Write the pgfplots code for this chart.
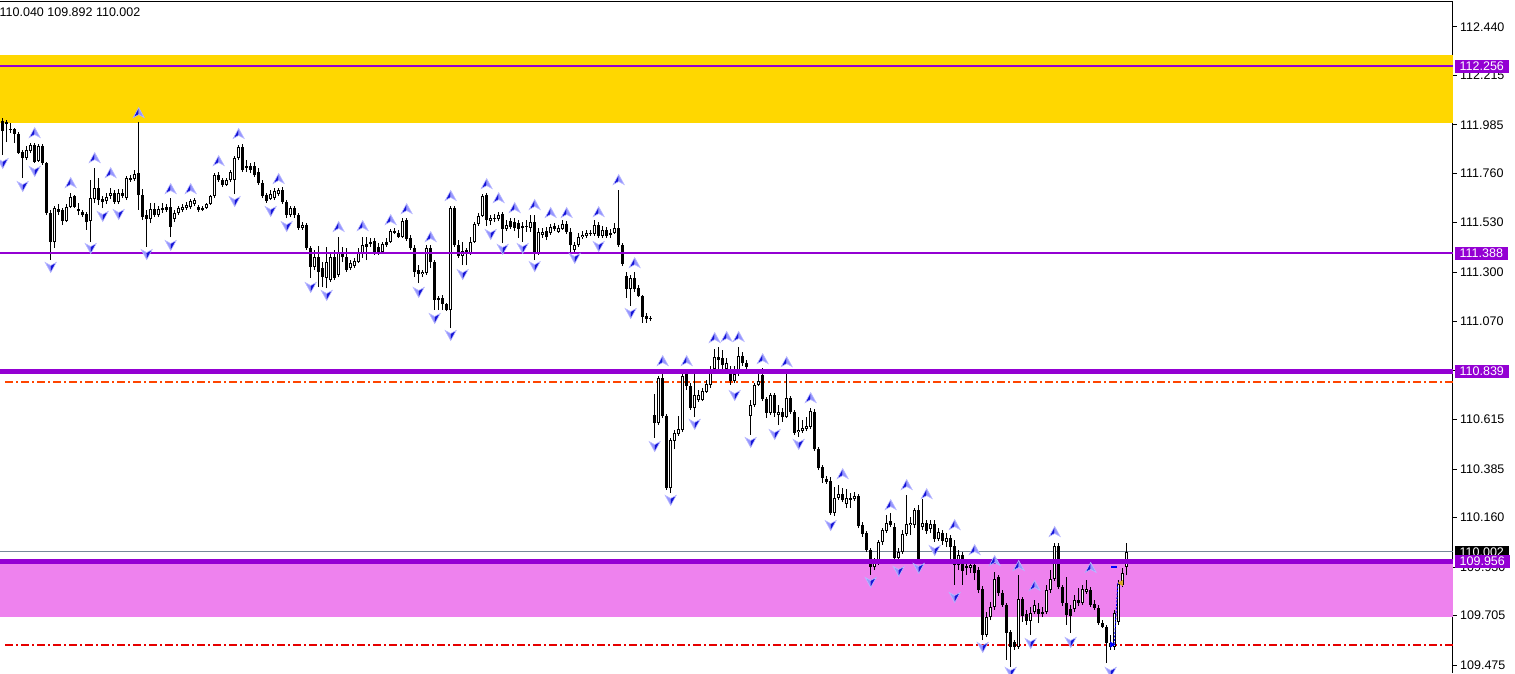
\documentclass[border=0pt]{standalone}
\usepackage{fontspec}
\setmainfont{Liberation Sans}
\usepackage{pgfplots}
\usepackage{pgfplotstable}
\pgfplotsset{compat=1.18}
\definecolor{dviolet}{RGB}{148,0,211}
\definecolor{goldband}{RGB}{255,215,0}
\definecolor{pinkband}{RGB}{238,130,238}
\definecolor{lsgray}{RGB}{119,136,153}
\definecolor{ored}{RGB}{255,69,0}
\definecolor{dred}{RGB}{230,0,0}
\definecolor{arrdark}{RGB}{20,20,215}
\definecolor{arrlight}{RGB}{150,150,255}
\definecolor{arredge}{RGB}{185,185,255}
\definecolor{tgold}{RGB}{218,165,32}

\pgfdeclareplotmark{uparr}{%
  \pgfsetfillcolor{arrdark}%
  \pgfpathmoveto{\pgfqpoint{0pt}{5.5pt}}\pgfpathlineto{\pgfqpoint{-5.5pt}{-4.5pt}}\pgfpathlineto{\pgfqpoint{0pt}{-1.5pt}}\pgfpathclose
  \pgfusepath{fill}%
  \pgfsetfillcolor{arrlight}%
  \pgfpathmoveto{\pgfqpoint{0pt}{5.5pt}}\pgfpathlineto{\pgfqpoint{5.5pt}{-4.5pt}}\pgfpathlineto{\pgfqpoint{0pt}{-1.5pt}}\pgfpathclose
  \pgfusepath{fill}%
  \pgfsetlinewidth{0.6pt}\pgfsetstrokecolor{arredge}%
  \pgfpathmoveto{\pgfqpoint{0pt}{5.5pt}}\pgfpathlineto{\pgfqpoint{5.5pt}{-4.5pt}}\pgfpathlineto{\pgfqpoint{0pt}{-1.5pt}}\pgfpathlineto{\pgfqpoint{-5.5pt}{-4.5pt}}\pgfpathclose
  \pgfusepath{stroke}%
}
\pgfdeclareplotmark{dnarr}{%
  \pgfsetfillcolor{arrlight}%
  \pgfpathmoveto{\pgfqpoint{0pt}{-5.5pt}}\pgfpathlineto{\pgfqpoint{-5.5pt}{4.5pt}}\pgfpathlineto{\pgfqpoint{0pt}{1.5pt}}\pgfpathclose
  \pgfusepath{fill}%
  \pgfsetfillcolor{arrdark}%
  \pgfpathmoveto{\pgfqpoint{0pt}{-5.5pt}}\pgfpathlineto{\pgfqpoint{5.5pt}{4.5pt}}\pgfpathlineto{\pgfqpoint{0pt}{1.5pt}}\pgfpathclose
  \pgfusepath{fill}%
  \pgfsetlinewidth{0.6pt}\pgfsetstrokecolor{arredge}%
  \pgfpathmoveto{\pgfqpoint{0pt}{-5.5pt}}\pgfpathlineto{\pgfqpoint{5.5pt}{4.5pt}}\pgfpathlineto{\pgfqpoint{0pt}{1.5pt}}\pgfpathlineto{\pgfqpoint{-5.5pt}{4.5pt}}\pgfpathclose
  \pgfusepath{stroke}%
}
\pgfdeclareplotmark{nomark}{}

\pgfplotstableread{
i o h l c
0 112.002 112.016 111.844 111.955
1 111.997 112.007 111.904 111.988
2 111.960 111.993 111.946 111.965
3 111.965 111.969 111.900 111.942
4 111.942 111.951 111.849 111.853
5 111.858 111.867 111.737 111.830
6 111.830 111.886 111.821 111.867
7 111.863 111.900 111.853 111.891
8 111.891 111.900 111.807 111.811
9 111.816 111.895 111.811 111.886
10 111.886 111.895 111.798 111.807
11 111.807 111.811 111.565 111.575
12 111.575 111.589 111.356 111.440
13 111.440 111.607 111.412 111.598
14 111.593 111.616 111.565 111.579
15 111.589 111.598 111.519 111.537
16 111.537 111.616 111.533 111.602
17 111.602 111.667 111.598 111.649
18 111.654 111.658 111.598 111.602
19 111.593 111.621 111.565 111.584
20 111.579 111.589 111.556 111.565
21 111.570 111.579 111.496 111.533
22 111.537 111.728 111.440 111.644
23 111.640 111.784 111.621 111.691
24 111.691 111.737 111.612 111.635
25 111.640 111.654 111.598 111.626
26 111.630 111.667 111.616 111.649
27 111.654 111.691 111.640 111.667
28 111.667 111.681 111.616 111.626
29 111.626 111.686 111.616 111.667
30 111.667 111.686 111.644 111.654
31 111.644 111.747 111.635 111.737
32 111.737 111.751 111.719 111.728
33 111.733 111.774 111.723 111.756
34 111.760 111.997 111.589 111.658
35 111.658 111.686 111.542 111.556
36 111.565 111.589 111.417 111.547
37 111.547 111.621 111.528 111.593
38 111.593 111.621 111.556 111.565
39 111.565 111.607 111.556 111.593
40 111.589 111.621 111.575 111.598
41 111.602 111.616 111.579 111.589
42 111.602 111.644 111.463 111.510
43 111.547 111.589 111.533 111.575
44 111.575 111.607 111.565 111.598
45 111.589 111.616 111.579 111.602
46 111.598 111.626 111.589 111.612
47 111.602 111.640 111.593 111.630
48 111.616 111.644 111.607 111.635
49 111.602 111.612 111.579 111.589
50 111.598 111.607 111.584 111.589
51 111.598 111.621 111.593 111.616
52 111.616 111.658 111.612 111.654
53 111.654 111.760 111.644 111.751
54 111.751 111.765 111.719 111.728
55 111.728 111.737 111.695 111.705
56 111.705 111.737 111.700 111.728
57 111.728 111.774 111.719 111.765
58 111.728 111.839 111.663 111.830
59 111.830 111.891 111.821 111.881
60 111.881 111.895 111.765 111.774
61 111.793 111.821 111.765 111.784
62 111.793 111.807 111.760 111.774
63 111.793 111.811 111.742 111.751
64 111.765 111.784 111.705 111.714
65 111.714 111.728 111.644 111.654
66 111.658 111.667 111.621 111.630
67 111.640 111.681 111.635 111.663
68 111.644 111.691 111.635 111.677
69 111.663 111.691 111.654 111.681
70 111.681 111.695 111.616 111.626
71 111.626 111.635 111.551 111.565
72 111.565 111.607 111.556 111.598
73 111.598 111.607 111.551 111.565
74 111.565 111.575 111.496 111.505
75 111.505 111.533 111.496 111.519
76 111.519 111.528 111.403 111.412
77 111.412 111.421 111.273 111.324
78 111.324 111.403 111.310 111.370
79 111.370 111.421 111.231 111.301
80 111.319 111.347 111.231 111.278
81 111.273 111.417 111.226 111.347
82 111.263 111.393 111.254 111.370
83 111.370 111.403 111.263 111.273
84 111.287 111.463 111.277 111.393
85 111.389 111.417 111.347 111.370
86 111.370 111.412 111.301 111.310
87 111.319 111.356 111.310 111.342
88 111.328 111.366 111.319 111.352
89 111.347 111.412 111.342 111.389
90 111.389 111.463 111.366 111.426
91 111.431 111.463 111.356 111.417
92 111.431 111.459 111.417 111.440
93 111.445 111.459 111.380 111.389
94 111.417 111.435 111.380 111.389
95 111.394 111.440 111.384 111.431
96 111.440 111.459 111.417 111.426
97 111.440 111.500 111.435 111.491
98 111.491 111.505 111.477 111.482
99 111.482 111.496 111.459 111.463
100 111.463 111.551 111.459 111.537
101 111.542 111.551 111.445 111.454
102 111.459 111.473 111.403 111.412
103 111.412 111.426 111.277 111.301
104 111.310 111.333 111.249 111.291
105 111.291 111.310 111.277 111.301
106 111.296 111.426 111.287 111.412
107 111.412 111.426 111.319 111.347
108 111.347 111.356 111.124 111.171
109 111.180 111.189 111.124 111.171
110 111.180 111.194 111.124 111.152
111 111.152 111.157 111.119 111.124
112 111.124 111.607 111.040 111.598
113 111.598 111.607 111.417 111.426
114 111.426 111.449 111.366 111.375
115 111.375 111.440 111.333 111.398
116 111.403 111.412 111.333 111.389
117 111.389 111.463 111.380 111.440
118 111.440 111.533 111.435 111.524
119 111.524 111.575 111.514 111.561
120 111.561 111.663 111.556 111.654
121 111.658 111.667 111.514 111.542
122 111.537 111.565 111.519 111.551
123 111.547 111.570 111.533 111.551
124 111.547 111.579 111.537 111.565
125 111.570 111.579 111.435 111.500
126 111.500 111.542 111.491 111.519
127 111.537 111.551 111.500 111.510
128 111.533 111.551 111.491 111.505
129 111.528 111.542 111.459 111.500
130 111.514 111.533 111.440 111.505
131 111.510 111.542 111.487 111.514
132 111.505 111.565 111.487 111.533
133 111.533 111.565 111.356 111.389
134 111.389 111.505 111.380 111.487
135 111.473 111.505 111.459 111.487
136 111.491 111.510 111.449 111.463
137 111.482 111.524 111.473 111.510
138 111.514 111.528 111.491 111.500
139 111.487 111.519 111.482 111.505
140 111.500 111.542 111.496 111.524
141 111.524 111.537 111.477 111.487
142 111.487 111.505 111.394 111.426
143 111.403 111.440 111.394 111.426
144 111.426 111.482 111.417 111.463
145 111.463 111.491 111.454 111.473
146 111.468 111.496 111.459 111.482
147 111.477 111.496 111.468 111.482
148 111.477 111.542 111.468 111.519
149 111.519 111.533 111.459 111.468
150 111.468 111.514 111.459 111.496
151 111.496 111.510 111.459 111.468
152 111.473 111.500 111.459 111.482
153 111.482 111.528 111.477 111.505
154 111.505 111.681 111.417 111.426
155 111.426 111.435 111.328 111.338
156 111.282 111.301 111.180 111.222
157 111.222 111.287 111.143 111.273
158 111.273 111.301 111.208 111.222
159 111.226 111.240 111.184 111.189
160 111.189 111.194 111.064 111.092
161 111.096 111.110 111.064 111.082
162 111.087 111.096 111.073 111.082
163 110.636 110.734 110.530 110.599
164 110.599 110.817 110.590 110.808
165 110.808 110.831 110.622 110.632
166 110.632 110.641 110.288 110.297
167 110.297 110.530 110.274 110.520
168 110.516 110.567 110.478 110.553
169 110.548 110.632 110.539 110.571
170 110.567 110.831 110.557 110.817
171 110.827 110.836 110.752 110.771
172 110.771 110.785 110.660 110.669
173 110.669 110.827 110.627 110.729
174 110.706 110.752 110.697 110.729
175 110.706 110.762 110.701 110.748
176 110.743 110.799 110.739 110.780
177 110.776 110.864 110.762 110.850
178 110.850 110.943 110.841 110.906
179 110.906 110.952 110.850 110.892
180 110.901 110.938 110.845 110.869
181 110.850 110.901 110.836 110.878
182 110.850 110.864 110.776 110.794
183 110.794 110.864 110.785 110.827
184 110.827 110.952 110.817 110.910
185 110.910 110.929 110.864 110.878
186 110.878 110.892 110.845 110.859
187 110.632 110.706 110.544 110.683
188 110.683 110.785 110.674 110.776
189 110.776 110.836 110.771 110.794
190 110.822 110.855 110.701 110.711
191 110.711 110.720 110.622 110.646
192 110.646 110.739 110.636 110.729
193 110.729 110.739 110.627 110.646
194 110.636 110.683 110.590 110.650
195 110.650 110.669 110.604 110.627
196 110.627 110.841 110.622 110.715
197 110.715 110.725 110.641 110.650
198 110.650 110.660 110.544 110.553
199 110.557 110.627 110.534 110.567
200 110.562 110.613 110.553 110.576
201 110.571 110.627 110.562 110.585
202 110.581 110.669 110.571 110.655
203 110.650 110.664 110.469 110.478
204 110.478 110.488 110.381 110.390
205 110.395 110.404 110.320 110.344
206 110.339 110.353 110.316 110.325
207 110.330 110.348 110.172 110.181
208 110.181 110.302 110.167 110.251
209 110.251 110.311 110.242 110.269
210 110.269 110.297 110.232 110.242
211 110.223 110.293 110.204 110.251
212 110.242 110.274 110.204 110.251
213 110.246 110.279 110.237 110.260
214 110.260 110.269 110.111 110.121
215 110.125 110.139 110.070 110.084
216 110.088 110.098 110.000 110.009
217 110.009 110.019 109.893 109.930
218 109.930 109.972 109.916 109.949
219 109.949 110.056 109.940 110.046
220 110.046 110.112 110.033 110.102
221 110.098 110.172 110.088 110.135
222 110.144 110.181 110.116 110.125
223 110.116 110.135 109.963 109.972
224 109.972 110.019 109.963 110.000
225 110.000 110.102 109.991 110.084
226 110.084 110.265 110.074 110.130
227 110.125 110.163 110.079 110.135
228 110.125 110.204 110.111 110.195
229 110.195 110.218 109.949 109.963
230 110.116 110.246 110.102 110.135
231 110.135 110.149 110.084 110.098
232 110.107 110.149 110.088 110.130
233 110.130 110.149 110.046 110.060
234 110.060 110.112 110.051 110.093
235 110.088 110.102 110.033 110.051
236 110.046 110.088 110.023 110.065
237 110.065 110.079 109.963 110.023
238 110.028 110.056 109.847 109.940
239 109.940 110.009 109.916 109.986
240 109.986 110.000 109.847 109.912
241 109.935 109.963 109.893 109.926
242 109.926 109.954 109.902 109.940
243 109.940 109.954 109.870 109.902
244 109.916 109.930 109.809 109.823
245 109.828 109.842 109.591 109.615
246 109.615 109.721 109.605 109.698
247 109.698 109.768 109.684 109.745
248 109.745 109.907 109.731 109.875
249 109.884 109.893 109.796 109.809
250 109.809 109.823 109.745 109.754
251 109.754 109.763 109.498 109.624
252 109.628 109.638 109.466 109.559
253 109.582 109.591 109.545 109.559
254 109.559 109.893 109.550 109.782
255 109.782 109.791 109.675 109.703
256 109.712 109.731 109.661 109.680
257 109.680 109.745 109.615 109.717
258 109.721 109.777 109.712 109.754
259 109.735 109.763 109.670 109.712
260 109.712 109.745 109.698 109.721
261 109.721 109.847 109.712 109.823
262 109.823 109.916 109.809 109.875
263 109.875 110.042 109.865 110.028
264 110.028 110.042 109.828 109.837
265 109.837 109.847 109.749 109.763
266 109.763 109.884 109.661 109.707
267 109.735 109.754 109.624 109.703
268 109.735 109.800 109.721 109.777
269 109.777 109.833 109.749 109.763
270 109.763 109.847 109.754 109.828
271 109.814 109.870 109.805 109.828
272 109.823 109.837 109.745 109.754
273 109.758 109.777 109.731 109.740
274 109.740 109.754 109.661 109.670
275 109.670 109.684 109.647 109.652
276 109.652 109.661 109.484 109.577
277 109.559 109.615 109.545 109.577
278 109.559 109.731 109.545 109.717
279 109.675 109.870 109.661 109.851
280 109.847 109.926 109.837 109.902
281 109.930 110.040 109.892 110.002
}\candles

\begin{document}
\begin{tikzpicture}
\useasboundingbox (0,0) rectangle (1515pt,673pt);
\begin{axis}[
  at={(0pt,0pt)}, anchor=south west,
  scale only axis, width=1453pt, height=671pt,
  xmin=-0.675, xmax=362.575, ymin=109.438, ymax=112.555,
  axis x line*=top, axis y line*=right,
  axis line style={black, line width=1pt},
  xtick=\empty,
  ytick={112.440,112.215,111.985,111.760,111.530,111.300,111.070,110.845,110.615,110.385,110.160,109.930,109.705,109.475},
  yticklabels={112.440,112.215,111.985,111.760,111.530,111.300,111.070,110.845,110.615,110.385,110.160,109.930,109.705,109.475},
  tick align=outside, major tick length=4pt,
  ytick style={black, line width=0.8pt},
  yticklabel style={font=\fontsize{12.5}{15}\selectfont, anchor=west, inner sep=0pt, xshift=3pt},
  clip mode=individual,
  candle/.style={only marks, mark=nomark, error bars/.cd, y dir=plus, y explicit, error mark=none},
]
% zones
\fill[goldband] (axis cs:-0.675,112.309) rectangle (axis cs:362.575,111.993);
\fill[pinkband] (axis cs:-0.675,109.956) rectangle (axis cs:362.575,109.698);
% reference lines behind candles
\addplot[draw=lsgray, line width=1pt, mark=none] coordinates {(-0.675,110.002) (362.575,110.002)};
\addplot[draw=ored, line width=1.1pt, mark=none, dash pattern=on 8pt off 3pt on 2pt off 3pt] coordinates {(0.6,110.790) (362.575,110.790)};
\addplot[draw=dred, line width=1.1pt, mark=none, dash pattern=on 8pt off 3pt on 2pt off 3pt] coordinates {(0.6,109.568) (362.575,109.568)};
% wicks
\addplot[candle, error bar style={draw=black, line width=1pt}]
  table[x=i, y=l, y error expr=\thisrow{h}-\thisrow{l}] {\candles};
% bodies (black)
\addplot[candle, error bar style={draw=black, line width=3.4pt}]
  table[x=i, y expr={min(\thisrow{o},\thisrow{c})}, y error expr={max(abs(\thisrow{c}-\thisrow{o}),0.0046)}] {\candles};
% hollow part of rising candles
\addplot[candle, error bar style={draw=white, line width=1.4pt}]
  table[x=i, y expr={\thisrow{o}+0.0046}, y error expr={max(\thisrow{c}-\thisrow{o}-0.0092,0)}] {\candles};
% level lines
\addplot[draw=dviolet, line width=2pt, mark=none] coordinates {(-0.675,112.256) (362.575,112.256)};
\addplot[draw=dviolet, line width=2pt, mark=none] coordinates {(-0.675,111.388) (362.575,111.388)};
\addplot[draw=dviolet, line width=5pt, mark=none] coordinates {(-0.675,110.839) (362.575,110.839)};
\addplot[draw=dviolet, line width=5pt, mark=none] coordinates {(-0.675,109.956) (362.575,109.956)};
% fractal arrows
\addplot[only marks, mark=uparr] coordinates {
(8,111.946) (17,111.714) (23,111.830) (27,111.760) (34,112.039) (42,111.686) (47,111.686)
(54,111.816) (59,111.942) (69,111.733) (84,111.510) (90,111.514) (97,111.542) (101,111.593)
(107,111.463) (112,111.654) (121,111.709) (124,111.644) (128,111.598) (133,111.612) (137,111.575)
(141,111.575) (149,111.579) (154,111.728) (158,111.342) (165,110.887) (171,110.887) (178,110.994)
(181,110.999) (184,110.999) (190,110.896) (196,110.882) (202,110.715) (210,110.362) (222,110.218)
(226,110.311) (231,110.269) (238,110.125) (243,110.009) (248,109.958) (254,109.935) (258,109.842)
(263,110.093) (272,109.926)};
\addplot[only marks, mark=dnarr] coordinates {
(0,111.807) (5,111.700) (8,111.770) (12,111.324) (22,111.412) (25,111.561) (29,111.570)
(36,111.384) (42,111.426) (58,111.630) (67,111.584) (71,111.514) (77,111.231) (81,111.194)
(104,111.208) (108,111.087) (112,111.008) (115,111.291) (122,111.477) (125,111.408) (130,111.412)
(133,111.328) (143,111.366) (149,111.421) (157,111.110) (163,110.492) (167,110.242) (173,110.595)
(183,110.729) (187,110.511) (193,110.548) (199,110.502) (207,110.125) (217,109.861) (224,109.912)
(229,109.926) (233,110.009) (238,109.791) (245,109.559) (252,109.443) (257,109.577) (267,109.582)
(277,109.443)};
% trade markers
\addplot[draw=blue, line width=1pt, mark=none, dash pattern=on 2pt off 1.5pt] coordinates {(278.8,109.856) (277.9,109.575)};
\addplot[draw=blue, line width=1.2pt, mark=none] coordinates {(277.2,109.930) (278.6,109.930)};
\addplot[only marks, mark=triangle*, mark size=3pt, mark options={rotate=-90, fill=blue, draw=blue}] coordinates {(277.3,109.570)};
\addplot[only marks, mark=triangle*, mark size=3pt, mark options={rotate=90, fill=tgold, draw=tgold}] coordinates {(279.6,109.856)};
\coordinate (L1) at (axis cs:362.575,112.256);
\coordinate (L2) at (axis cs:362.575,111.388);
\coordinate (L3) at (axis cs:362.575,110.839);
\coordinate (L4) at (axis cs:362.575,110.002);
\coordinate (L5) at (axis cs:362.575,109.956);
\end{axis}
\begin{scope}[every node/.style={anchor=west, inner xsep=5pt, inner ysep=2pt, text height=8.9pt, text depth=0pt, text=white, font=\fontsize{12.5}{15}\selectfont}]
\node[fill=dviolet] at ([xshift=1.5pt]L1) {112.256};
\node[fill=dviolet] at ([xshift=1.5pt]L2) {111.388};
\node[fill=dviolet] at ([xshift=1.5pt]L3) {110.839};
\node[fill=black, inner ysep=1.2pt] at ([xshift=1.5pt]L4) {110.002};
\node[fill=dviolet] at ([xshift=1.5pt]L5) {109.956};
\end{scope}
\node[anchor=base west, inner sep=0pt, font=\fontsize{12.5}{15}\selectfont] at (-0.5pt,656.3pt) {110.040 109.892 110.002};
\end{tikzpicture}
\end{document}
